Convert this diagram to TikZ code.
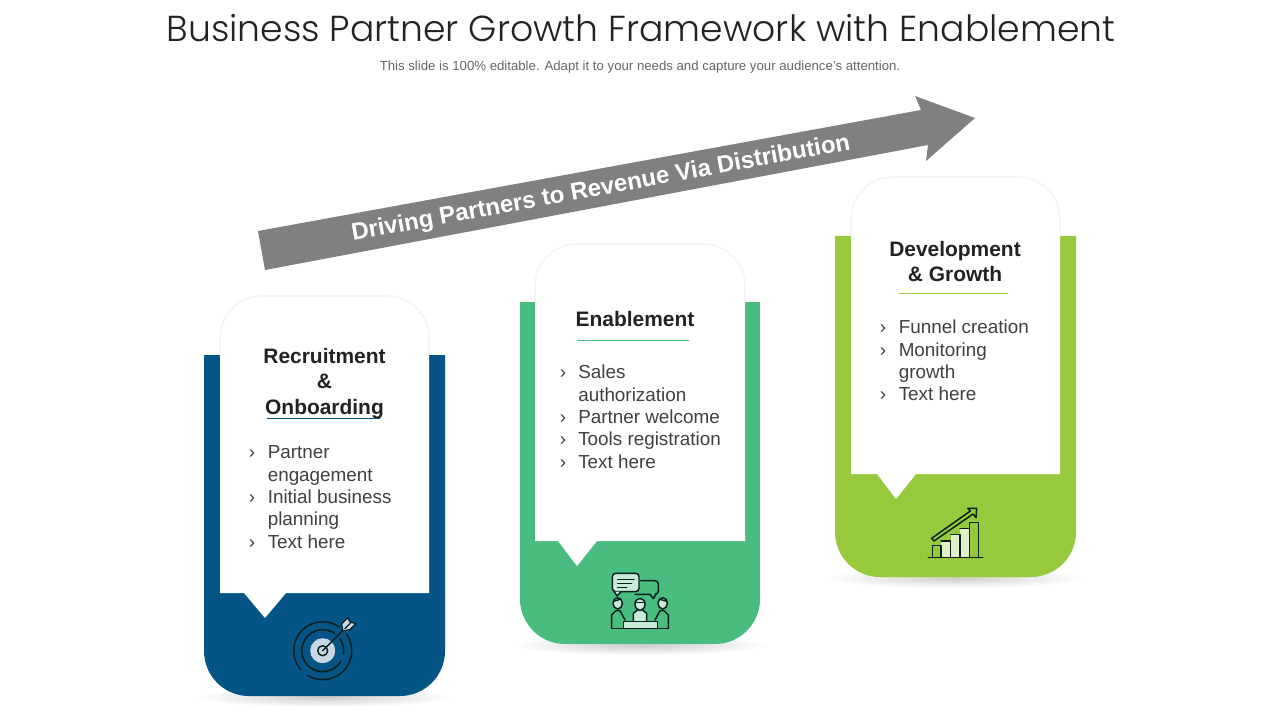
\documentclass[tikz,border=0pt]{standalone}
\usepackage{fontspec}
\setmainfont{Liberation Sans}
\newfontfamily\titlefont{Poppins Light}
\usetikzlibrary{calc}
\definecolor{cblue}{HTML}{045485}
\definecolor{cgreen}{HTML}{49BD80}
\definecolor{clime}{HTML}{97C93D}
\definecolor{ink}{HTML}{0B1E1E}
\definecolor{txt}{HTML}{404040}
\definecolor{head}{HTML}{222222}
\tikzset{
  x=0.75pt,y=-0.75pt,
  headtxt/.style={font=\fontsize{15.7pt}{18pt}\selectfont\bfseries,text=head,anchor=base,inner sep=0pt},
  listtxt/.style={font=\fontsize{14.15pt}{17pt}\selectfont,text=txt,anchor=base west,inner sep=0pt},
  bul/.style={font=\fontsize{14.15pt}{17pt}\selectfont,text=txt,anchor=base,inner sep=0pt},
  cardshadow/.style={inner color=black!20,outer color=white,draw=none},
  icon/.style={draw=ink,line width=1.1pt,line cap=round,line join=round},
  zoomed/.style={x=0.25pt,y=-0.25pt},
}
\newcommand{\panel}[5]{% x0 x1 top bottom colour
  \fill[#5] (#1,#3) -- (#2,#3) -- (#2,#4-45) arc[start angle=0,end angle=-90,x radius=45*0.75pt,y radius=45*0.75pt] -- (#1+45,#4) arc[start angle=-90,end angle=-180,x radius=45*0.75pt,y radius=45*0.75pt] -- cycle;
}
\newcommand{\wcard}[7]{% x0 x1 top bottom pl pr tip
  \fill[white] (#1,#4) -- (#1,#3+42) arc[start angle=180,end angle=90,radius=42*0.75pt] -- (#2-42,#3) arc[start angle=90,end angle=0,radius=42*0.75pt] -- (#2,#4) -- (#6,#4) -- (#7,#4+25) -- (#5,#4) -- cycle;
  \draw[black!4,line width=1.2pt] (#1,#3+58) -- (#1,#3+42) arc[start angle=180,end angle=90,radius=42*0.75pt] -- (#2-42,#3) arc[start angle=90,end angle=0,radius=42*0.75pt] -- (#2,#3+58);
}
\begin{document}
\begin{tikzpicture}
\useasboundingbox (0,0) rectangle (1280,720);
\fill[white] (0,0) rectangle (1280,720);

\node[font=\titlefont\fontsize{27.1pt}{32pt}\selectfont,text=head,anchor=base,inner sep=0pt] (title) at (641,41.5) {Business Partner Growth Framework with Enablement};
\node[font=\fontsize{9.9pt}{11pt}\selectfont,text=black!60,anchor=base,inner sep=0pt] (sub) at (640,71) {This slide is 100\% editable. Adapt it to your needs and capture your audience's attention.};

% arrow
\fill[black!50] (258,231) -- (921,110) -- (915,96) -- (975,118) -- (926,161) -- (928,145) -- (265,270) -- cycle;
\node[font=\fontsize{18pt}{22pt}\selectfont\bfseries,text=white,rotate=10.4,inner sep=0pt] (arrowtxt) at (601,189) {Driving Partners to Revenue Via Distribution};

% shadows
\shade[cardshadow] (324,697) ellipse[x radius=130,y radius=10];
\shade[cardshadow] (640,645) ellipse[x radius=130,y radius=10];
\shade[cardshadow] (955,578) ellipse[x radius=130,y radius=10];

% panels
\panel{204}{445}{355}{696}{cblue}
\panel{520}{760}{302}{644}{cgreen}
\panel{835}{1076}{236}{577}{clime}
\wcard{220}{429}{296}{593}{244}{286}{265}
\wcard{535}{745}{244}{541}{558}{597}{577}
\wcard{851}{1060}{177}{474}{877}{916}{896}

% card 1 text
\node[headtxt] (h1a) at (324.5,363) {Recruitment};
\node[headtxt] (h1b) at (324.5,388) {\&};
\node[headtxt] (h1c) at (324.5,414) {Onboarding};
\draw[cblue,line width=0.75pt] (267,418.5) -- (380,418.5);
\node[bul] (b1a) at (252,458) {›};
\node[listtxt] (l1a) at (267.5,458) {Partner};
\node[listtxt] (l1b) at (267.5,481) {engagement};
\node[bul] (b1c) at (252,503) {›};
\node[listtxt] (l1c) at (267.5,503) {Initial business};
\node[listtxt] (l1d) at (267.5,525) {planning};
\node[bul] (b1e) at (252,548) {›};
\node[listtxt] (l1e) at (267.5,548) {Text here};

% card 2 text
\node[headtxt] (h2a) at (635,326) {Enablement};
\draw[cgreen,line width=0.75pt] (577,340.5) -- (689,340.5);
\node[bul] (b2a) at (563,378) {›};
\node[listtxt] (l2a) at (578,378) {Sales};
\node[listtxt] (l2b) at (578,401) {authorization};
\node[bul] (b2c) at (563,423) {›};
\node[listtxt] (l2c) at (578,423) {Partner welcome};
\node[bul] (b2d) at (563,445) {›};
\node[listtxt] (l2d) at (578,445) {Tools registration};
\node[bul] (b2e) at (563,468) {›};
\node[listtxt] (l2e) at (578,468) {Text here};

% card 3 text
\node[headtxt] (h3a) at (955,256) {Development};
\node[headtxt] (h3b) at (955,281) {\& Growth};
\draw[clime,line width=0.75pt] (899,293.5) -- (1008,293.5);
\node[bul] (b3a) at (883,333) {›};
\node[listtxt] (l3a) at (898.5,333) {Funnel creation};
\node[bul] (b3b) at (883,356) {›};
\node[listtxt] (l3b) at (898.5,356) {Monitoring};
\node[listtxt] (l3c) at (898.5,378) {growth};
\node[bul] (b3d) at (883,400) {›};
\node[listtxt] (l3d) at (898.5,400) {Text here};

% target icon
\begin{scope}[shift={(322.7,650.7)}]
\fill[cblue!22!white] (0,0) circle[radius=12.5*0.75pt];
\draw[icon] (0,0) circle[radius=5*0.75pt];
\draw[icon] ({29*cos(55)},{-29*sin(55)}) arc[start angle=55,end angle=222,radius=29*0.75pt];
\draw[icon] ({29*cos(238)},{-29*sin(238)}) arc[start angle=238,end angle=395,radius=29*0.75pt];
\draw[icon] ({21*cos(55)},{-21*sin(55)}) arc[start angle=55,end angle=330,radius=21*0.75pt];
\draw[icon] ({21*cos(350)},{-21*sin(350)}) arc[start angle=350,end angle=395,radius=21*0.75pt];
\draw[icon] (0,0) -- (22,-22);
\fill[cblue!22!white,draw=ink,line width=0.9pt,line join=round] (20,-20) -- (19,-27) -- (25,-33) -- (27,-29) -- (33,-27) -- (27,-21) -- cycle;
\draw[ink,line width=0.9pt] (22,-22) -- (29,-29);
\end{scope}

% team icon (coordinates of a 3x crop)
\begin{scope}[shift={(570,560)},zoomed]
\draw[icon,rounded corners=2.5pt] (212,62) -- (265,62) -- (265,103) -- (258,103);
\draw[icon] (258,103) -- (250,116) -- (240,103) -- (195,103);
\fill[cgreen!30!white,draw=ink,line width=1.1pt,rounded corners=2.5pt] (127,40) rectangle (207,95);
\fill[cgreen!30!white,draw=ink,line width=1.1pt,line join=round] (133,95) -- (141,108) -- (153,95);
\draw[icon] (143,58) -- (192,58) (143,70) -- (185,70) (143,82) -- (170,82);
\fill[cgreen!30!white] (190,185) -- (190,160) -- (203,150) -- (217,150) -- (230,160) -- (230,185) -- cycle;
\draw[icon] (190,185) -- (190,160) -- (203,150) (217,150) -- (230,160) -- (230,185);
\fill[cgreen!30!white,draw=ink,line width=1.1pt] (210,133) ellipse[x radius=15,y radius=18];
\draw[icon] (195,128) -- (225,128);
\fill[cgreen!30!white,draw=ink,line width=1.1pt] (143,130) ellipse[x radius=14,y radius=17];
\fill[cgreen!30!white,draw=ink,line width=1.1pt] (278,130) ellipse[x radius=14,y radius=17];
\draw[icon] (130,124) -- (150,118) (291,124) -- (270,118);
\draw[icon] (125,205) -- (125,165) -- (138,152) -- (150,152) -- (165,180);
\draw[icon] (295,205) -- (295,165) -- (282,152) -- (270,152) -- (255,180);
\fill[cgreen!30!white,draw=ink,line width=1.1pt] (160,185) rectangle (262,205);
\draw[icon] (125,205) -- (295,205);
\end{scope}

% growth icon (coordinates of a 3x crop)
\begin{scope}[shift={(900,495)},zoomed]
\fill[clime!30!white] (123,138) rectangle (152,188);
\fill[clime!30!white] (152,118) rectangle (180,188);
\fill[clime!30!white] (180,100) rectangle (208,188);
\draw[icon] (85,188) -- (248,188);
\draw[icon] (97,188) -- (97,152) -- (123,152) -- (123,188);
\draw[icon] (123,138) -- (152,138) -- (152,188);
\draw[icon] (152,118) -- (180,118) -- (180,188);
\draw[icon] (180,100) -- (208,100) -- (208,188);
\draw[icon] (208,188) -- (208,83) -- (236,83) -- (236,188);
\draw[icon] (95,130) -- (211,48) -- (203,40) -- (230,40) -- (228,68) -- (219,57) -- (102,138) -- cycle;
\end{scope}
\end{tikzpicture}
\end{document}
